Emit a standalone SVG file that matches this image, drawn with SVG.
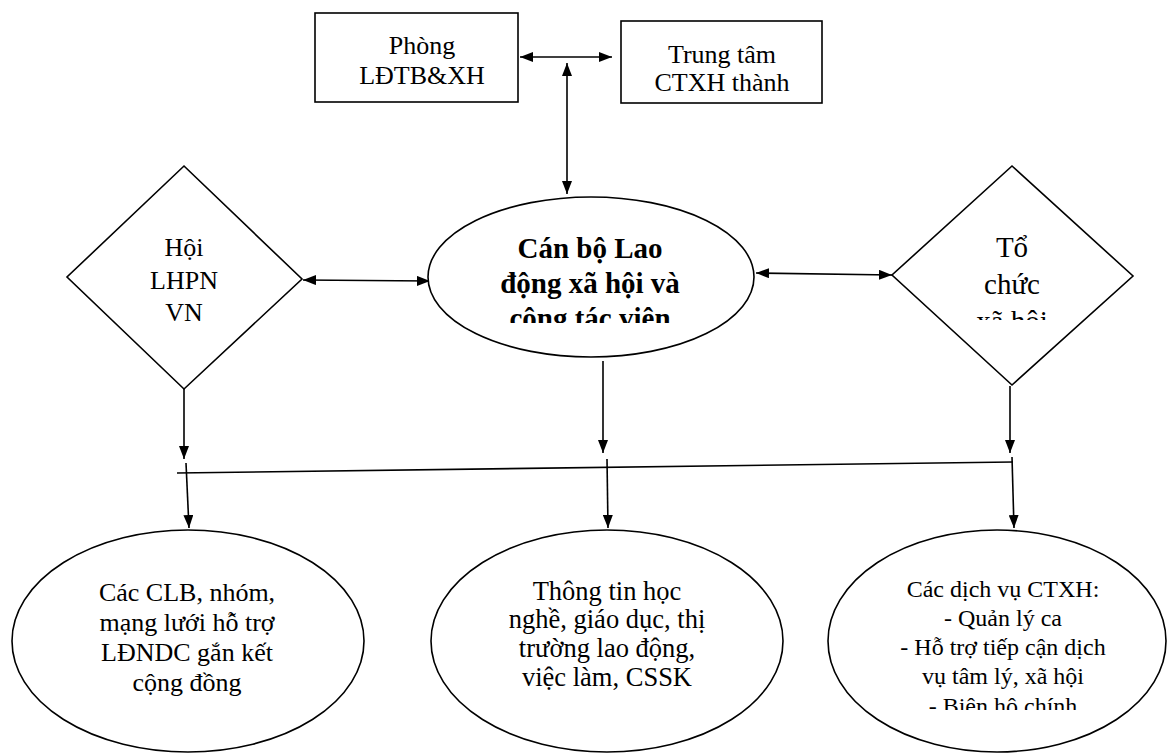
<svg xmlns="http://www.w3.org/2000/svg" width="1168" height="754" viewBox="0 0 1168 754">
<style>
.shape{fill:#fff;stroke:#000;stroke-width:1.6}
.t{font-family:"Liberation Serif","Times New Roman",serif;fill:#000;text-anchor:middle}
.c{stroke:#000;stroke-width:1.6;fill:none}
</style>
<defs>
<marker id="ah" viewBox="0 0 13 10" refX="13" refY="5" markerWidth="13" markerHeight="10" markerUnits="userSpaceOnUse" orient="auto-start-reverse">
<path d="M0,0 L13,5 L0,10 z" fill="#000"/>
</marker>
<clipPath id="clipC"><rect x="428" y="197" width="330" height="126"/></clipPath>
<clipPath id="clipR"><rect x="892" y="166" width="242" height="154"/></clipPath>
<clipPath id="clipB3"><rect x="827" y="530" width="341" height="180"/></clipPath>
</defs>
<g id="connectors">
<line class="c" x1="520" y1="57" x2="612" y2="57" marker-start="url(#ah)" marker-end="url(#ah)"/>
<line class="c" x1="567" y1="63" x2="567" y2="194" marker-start="url(#ah)" marker-end="url(#ah)"/>
<line class="c" x1="303" y1="280" x2="430" y2="281" marker-start="url(#ah)" marker-end="url(#ah)"/>
<line class="c" x1="756" y1="273" x2="892" y2="275" marker-start="url(#ah)" marker-end="url(#ah)"/>
<line class="c" x1="184" y1="389" x2="184" y2="459" marker-end="url(#ah)"/>
<line class="c" x1="603" y1="361" x2="603" y2="453" marker-end="url(#ah)"/>
<line class="c" x1="1010" y1="386" x2="1010" y2="453" marker-end="url(#ah)"/>
<line class="c" x1="177" y1="473" x2="1013" y2="462" stroke-width="2"/>
<line class="c" x1="186" y1="463" x2="189" y2="528" marker-end="url(#ah)"/>
<line class="c" x1="607" y1="459" x2="608" y2="528" marker-end="url(#ah)"/>
<line class="c" x1="1012" y1="457" x2="1014" y2="528" marker-end="url(#ah)"/>
</g>
<g id="phong">
<rect class="shape" x="315" y="13" width="203" height="89"/>
<text class="t" font-size="26" x="422" y="54">Phòng</text>
<text class="t" font-size="26" x="422" y="84">LĐTB&amp;XH</text>
</g>
<g id="trungtam">
<rect class="shape" x="621" y="21" width="201" height="82"/>
<text class="t" font-size="26" x="722" y="63">Trung tâm</text>
<text class="t" font-size="26" x="722" y="91">CTXH thành</text>
</g>
<g id="hoi">
<polygon class="shape" points="184,166 302,279 184,389 67,277"/>
<text class="t" font-size="26" x="184" y="256">Hội</text>
<text class="t" font-size="26" x="184" y="289">LHPN</text>
<text class="t" font-size="26" x="184" y="321">VN</text>
</g>
<g id="canbo">
<ellipse class="shape" cx="591" cy="277" rx="163" ry="80"/>
<g clip-path="url(#clipC)">
<text class="t" font-size="29" font-weight="bold" x="590" y="258">Cán bộ Lao</text>
<text class="t" font-size="29" font-weight="bold" x="590" y="293">động xã hội và</text>
<text class="t" font-size="29" font-weight="bold" x="590" y="328">công tác viên</text>
</g>
</g>
<g id="tochuc">
<polygon class="shape" points="1012,166 1133,276 1012,385 892,275"/>
<g clip-path="url(#clipR)">
<text class="t" font-size="29" x="1012" y="257">Tổ</text>
<text class="t" font-size="29" x="1012" y="294">chức</text>
<text class="t" font-size="29" x="1012" y="331">xã hội</text>
</g>
</g>
<g id="clb">
<ellipse class="shape" cx="188" cy="641" rx="176" ry="111"/>
<text class="t" font-size="26" x="187" y="601">Các CLB, nhóm,</text>
<text class="t" font-size="26" x="187" y="631">mạng lưới hỗ trợ</text>
<text class="t" font-size="26" x="187" y="661">LĐNDC gắn kết</text>
<text class="t" font-size="26" x="187" y="691">cộng đồng</text>
</g>
<g id="thongtin">
<ellipse class="shape" cx="607" cy="641" rx="176" ry="111"/>
<text class="t" font-size="26.5" x="607" y="600">Thông tin học</text>
<text class="t" font-size="26.5" x="607" y="628">nghề, giáo dục, thị</text>
<text class="t" font-size="26.5" x="607" y="657">trường lao động,</text>
<text class="t" font-size="26.5" x="607" y="686">việc làm, CSSK</text>
</g>
<g id="dichvu">
<ellipse class="shape" cx="997" cy="641" rx="169" ry="111"/>
<g clip-path="url(#clipB3)">
<text class="t" font-size="24" x="1003" y="597">Các dịch vụ CTXH:</text>
<text class="t" font-size="24" x="1003" y="626">- Quản lý ca</text>
<text class="t" font-size="24" x="1003" y="655">- Hỗ trợ tiếp cận dịch</text>
<text class="t" font-size="24" x="1003" y="684">vụ tâm lý, xã hội</text>
<text class="t" font-size="24" x="1003" y="714">- Biện hộ chính</text>
</g>
</g>
</svg>
